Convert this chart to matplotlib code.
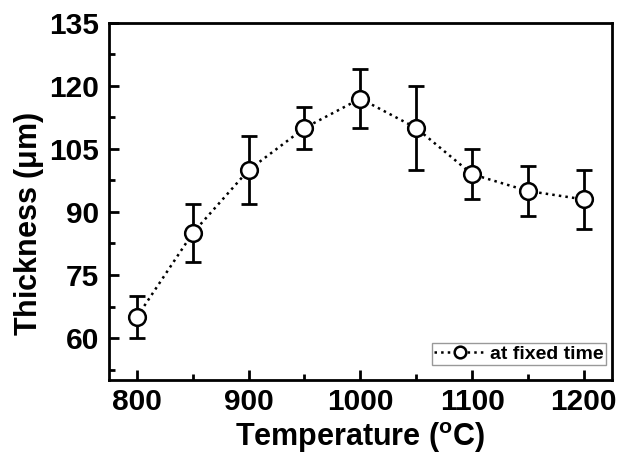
import matplotlib.pyplot as plt
from matplotlib.ticker import MultipleLocator

temperature = [800, 850, 900, 950, 1000, 1050, 1100, 1150, 1200]
thickness = [65, 85, 100, 110, 117, 110, 99, 95, 93]
err_low = [5, 7, 8, 5, 7, 10, 6, 6, 7]
err_high = [5, 7, 8, 5, 7, 10, 6, 6, 7]

plt.rcParams.update({
    "font.family": ["Liberation Sans", "DejaVu Sans"],
    "font.weight": "bold",
    "axes.linewidth": 2,
    "mathtext.fontset": "custom",
    "mathtext.rm": "Liberation Sans:bold",
    "mathtext.bf": "Liberation Sans:bold",
})

fig = plt.figure(figsize=(6.3, 4.58), dpi=100)
ax = fig.add_axes([0.173, 0.1703, 0.798, 0.7795])

ax.errorbar(temperature, thickness, yerr=[err_low, err_high],
            fmt="none", ecolor="black", elinewidth=2, capsize=6, capthick=2,
            zorder=3)
ax.plot(temperature, thickness, ls=":", color="black", lw=1.8,
        marker="o", mfc="white", mec="black", ms=12, mew=1.8,
        label="at fixed time", zorder=4)

ax.set_xlim(775, 1225)
ax.set_ylim(50, 135)
ax.xaxis.set_major_locator(MultipleLocator(100))
ax.xaxis.set_minor_locator(MultipleLocator(50))
ax.yaxis.set_major_locator(MultipleLocator(15))
ax.yaxis.set_minor_locator(MultipleLocator(7.5))
ax.tick_params(which="both", direction="in", top=False, right=False,
               labelsize=21.5, width=2)
ax.tick_params(axis="x", pad=6)
ax.tick_params(axis="y", pad=7)
ax.tick_params(which="major", length=7)
ax.tick_params(which="minor", length=4)

ax.set_xlabel("Temperature ($^{\\mathrm{o}}$C)", fontsize=22, fontweight="bold",
              labelpad=3)
ax.set_ylabel("Thickness ($\\mathrm{\\mu}$m)", fontsize=22, fontweight="bold")
ax.yaxis.set_label_coords(-0.126, 0.437)

leg = ax.legend(loc="lower right", bbox_to_anchor=(0.988, 0.042),
                fontsize=14, frameon=True, fancybox=False, markerscale=0.7,
                handlelength=2.6, handletextpad=0.25, borderpad=0.12,
                borderaxespad=0)
leg.get_frame().set_edgecolor("gray")
leg.get_frame().set_linewidth(1)

fig.savefig("out.png", dpi=100)
